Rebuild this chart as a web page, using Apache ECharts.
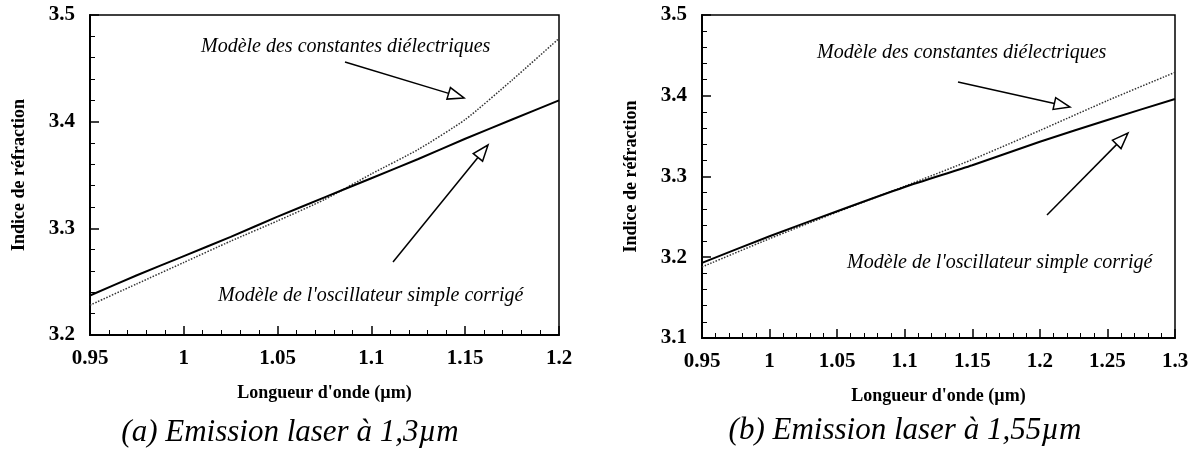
<!DOCTYPE html>
<html>
<head>
<meta charset="utf-8">
<script src="https://cdn.jsdelivr.net/npm/echarts@6/dist/echarts.min.js"></script>
<style>
  html, body { margin: 0; padding: 0; background: #fff; }
  #main { width: 1201px; height: 455px; }
</style>
</head>
<body>
<div id="main"></div>
<script>
// (a) emission laser a 1,3 um
var lambdaA = [0.95, 0.975, 1.0, 1.025, 1.05, 1.075, 1.1, 1.125, 1.15, 1.175, 1.2];
var dielA   = [3.228, 3.248, 3.268, 3.288, 3.307, 3.327, 3.351, 3.374, 3.402, 3.439, 3.478];
var oscA    = [3.237, 3.256, 3.274, 3.292, 3.311, 3.329, 3.347, 3.365, 3.384, 3.402, 3.420];

// (b) emission laser a 1,55 um
var lambdaB = [0.95, 1.0, 1.05, 1.1, 1.15, 1.2, 1.25, 1.3];
var dielB   = [3.188, 3.223, 3.256, 3.288, 3.321, 3.357, 3.394, 3.429];
var oscB    = [3.193, 3.226, 3.257, 3.287, 3.314, 3.343, 3.370, 3.396];

var ticksYA = [3.2, 3.3, 3.4, 3.5];
var ticksYB = [3.1, 3.2, 3.3, 3.4, 3.5];

var captions = ['(a) Emission laser à 1,3µm', '(b) Emission laser à 1,55µm'];
var labelDiel = 'Modèle des constantes diélectriques';
var labelOsc = "Modèle de l'oscillateur simple corrigé";

function pairs(xs, ys) {
  return xs.map(function (x, i) { return [x, ys[i]]; });
}

var serif = 'Liberation Serif, Times New Roman, serif';

function xAxisCfg(idx, min, max) {
  return {
    type: 'value', gridIndex: idx, min: min, max: max, interval: 0.05,
    name: "Longueur d'onde (µm)", nameLocation: 'middle', nameGap: 49,
    nameTextStyle: { fontFamily: serif, fontWeight: 'bold', fontSize: 18, color: '#000' },
    axisLine: { lineStyle: { color: '#000', width: 2 } },
    axisTick: { inside: true, length: 9, lineStyle: { color: '#000', width: 1.5 } },
    minorTick: { show: true, splitNumber: 5, length: 5, lineStyle: { color: '#000', width: 1 } },
    splitLine: { show: false },
    axisLabel: { fontFamily: serif, fontWeight: 'bold', fontSize: 21, color: '#000', margin: 13,
      formatter: function (v) { return String(+v.toFixed(2)); } }
  };
}

function yAxisCfg(idx, ticks) {
  return {
    type: 'value', gridIndex: idx, min: ticks[0], max: ticks[ticks.length - 1], interval: 0.1,
    name: 'Indice de réfraction', nameLocation: 'middle', nameGap: 62,
    nameTextStyle: { fontFamily: serif, fontWeight: 'bold', fontSize: 18, color: '#000' },
    axisLine: { lineStyle: { color: '#000', width: 2 } },
    axisTick: { inside: true, length: 9, lineStyle: { color: '#000', width: 1.5 } },
    minorTick: { show: true, splitNumber: 5, length: 5, lineStyle: { color: '#000', width: 1 } },
    splitLine: { show: false },
    axisLabel: { fontFamily: serif, fontWeight: 'bold', fontSize: 21, color: '#000', margin: 15,
      formatter: function (v) { return v.toFixed(1); } }
  };
}

function dotted(idx, data) {
  return {
    type: 'line', xAxisIndex: idx, yAxisIndex: idx, data: data, smooth: 0.2,
    symbol: 'none', silent: true,
    lineStyle: { color: '#333', width: 1.5, type: [1.5, 1.5] }
  };
}
function solid(idx, data) {
  return {
    type: 'line', xAxisIndex: idx, yAxisIndex: idx, data: data, smooth: 0.2,
    symbol: 'none', silent: true,
    lineStyle: { color: '#000', width: 2 }
  };
}

// arrow with open triangular head
function arrow(x1, y1, x2, y2) {
  var dx = x2 - x1, dy = y2 - y1, len = Math.sqrt(dx * dx + dy * dy);
  var ux = dx / len, uy = dy / len, nx = -uy, ny = ux;
  var hl = 16, hw = 6;
  var bx = x2 - ux * hl, by = y2 - uy * hl;
  return [
    { type: 'line', shape: { x1: x1, y1: y1, x2: bx, y2: by },
      style: { stroke: '#000', lineWidth: 1.5 } },
    { type: 'polygon', shape: { points: [[x2, y2], [bx + nx * hw, by + ny * hw], [bx - nx * hw, by - ny * hw]] },
      style: { fill: '#fff', stroke: '#000', lineWidth: 1.5 } }
  ];
}

function note(text, x, y) {
  return { type: 'text', x: x, y: y,
    style: { text: text, font: 'italic 20px ' + serif, fill: '#000', textAlign: 'left', textVerticalAlign: 'middle' } };
}

var graphics = []
  .concat([note(labelDiel, 201, 47), note(labelOsc, 218, 296)])
  .concat(arrow(345, 62, 464, 98))
  .concat(arrow(393, 262, 488, 145))
  .concat([note(labelDiel, 817, 53), note(labelOsc, 847, 263)])
  .concat(arrow(958, 82, 1070, 107))
  .concat(arrow(1047, 215, 1128, 133))
  .concat([
    { type: 'text', x: 290, y: 433, style: { text: captions[0], font: 'italic 31px ' + serif, fill: '#000', textAlign: 'center', textVerticalAlign: 'middle' } },
    { type: 'text', x: 905, y: 431, style: { text: captions[1], font: 'italic 31px ' + serif, fill: '#000', textAlign: 'center', textVerticalAlign: 'middle' } }
  ]);

var chart = echarts.init(document.getElementById('main'), null, { renderer: 'canvas' });
chart.setOption({
  animation: false,
  backgroundColor: '#fff',
  grid: [
    { left: 90, top: 15, width: 469, height: 320, show: true, borderColor: '#000', borderWidth: 1.5, backgroundColor: 'transparent' },
    { left: 702, top: 15, width: 473, height: 323, show: true, borderColor: '#000', borderWidth: 1.5, backgroundColor: 'transparent' }
  ],
  xAxis: [xAxisCfg(0, 0.95, 1.2), xAxisCfg(1, 0.95, 1.3)],
  yAxis: [yAxisCfg(0, ticksYA), yAxisCfg(1, ticksYB)],
  series: [
    dotted(0, pairs(lambdaA, dielA)),
    solid(0, pairs(lambdaA, oscA)),
    dotted(1, pairs(lambdaB, dielB)),
    solid(1, pairs(lambdaB, oscB))
  ],
  graphic: graphics
});
</script>
</body>
</html>
